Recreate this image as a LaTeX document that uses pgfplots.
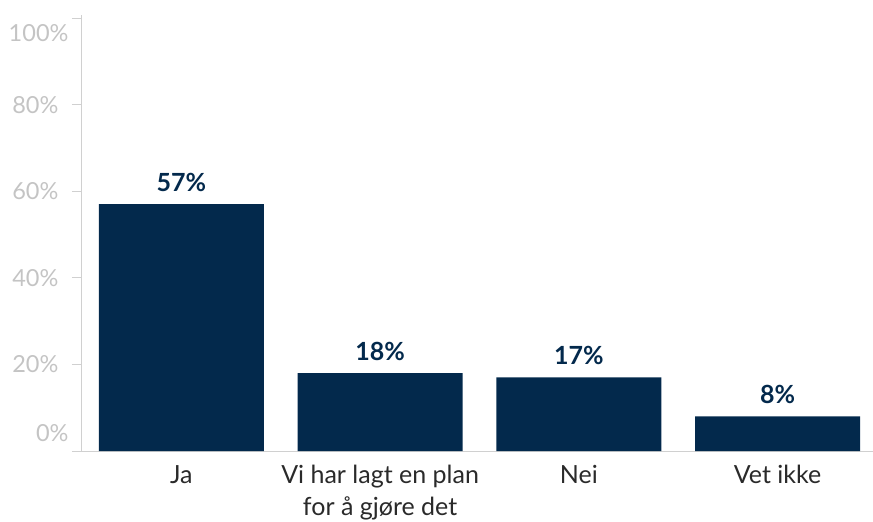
\documentclass[border=0pt]{standalone}
\usepackage{pgfplots}
\pgfplotsset{compat=1.18}
\usepackage{fontspec}
\setmainfont{Lato}
\definecolor{barc}{HTML}{03294C}
\definecolor{tickc}{HTML}{C4C4C4}
\definecolor{axc}{HTML}{D0D0D0}
\definecolor{catc}{HTML}{2A2A2A}
\begin{document}
\begin{tikzpicture}
\begin{axis}[
  scale only axis,
  width=791pt, height=436pt,
  xmin=-0.5, xmax=3.48,
  ymin=0, ymax=100.7,
  axis x line*=bottom,
  axis y line*=left,
  axis line style={axc, line width=1pt},
  xtick={0,1,2,3},
  xticklabels={Ja,{Vi har lagt en plan\\for å gjøre det},Nei,Vet ikke},
  xticklabel style={font=\fontsize{25}{32}\selectfont, text=catc, align=center, yshift=-1pt},
  major x tick style={draw=none},
  ytick={0,20,40,60,80,100},
  yticklabels={,20\%,40\%,60\%,80\%,},
  extra y ticks={4.2,96.5},
  extra y tick labels={0\%,100\%},
  extra y tick style={major tick length=0pt, tick style={draw=none}},
  yticklabel style={font=\fontsize{23.5}{26}\selectfont, text=tickc, xshift=-10pt},
  /pgf/number format/assume math mode=true,
  major y tick style={axc, line width=1pt},
  major tick length=10pt,
  tick align=outside,
  ybar, bar width=165pt,
  nodes near coords={\pgfmathprintnumber{\pgfplotspointmeta}\%},
  nodes near coords style={font=\bfseries\fontsize{25}{26}\selectfont, text=barc, yshift=9pt},
  clip=false,
]
\addplot[fill=barc, draw=none] coordinates {(0,57) (1,18) (2,17) (3,8)};
\end{axis}
\pgfresetboundingbox
\useasboundingbox (-82pt,-71pt) rectangle (791pt,451pt);
\end{tikzpicture}
\end{document}
